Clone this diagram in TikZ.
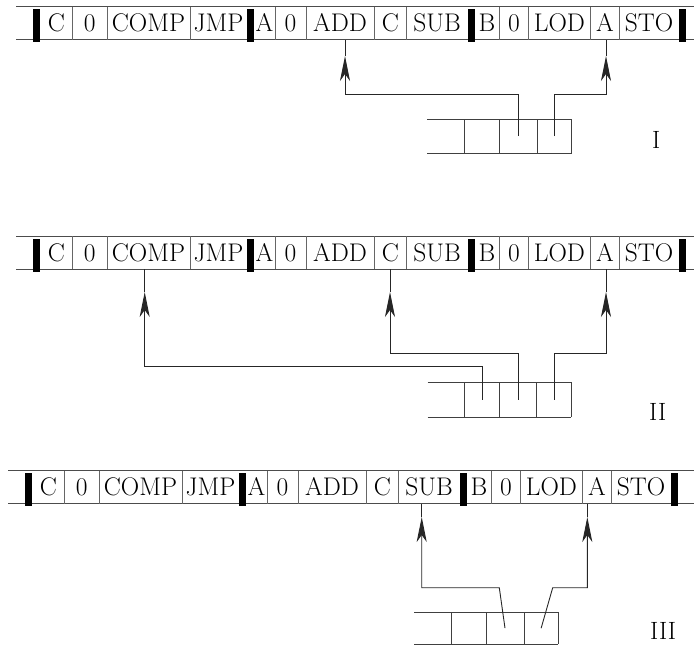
\documentclass[tikz,border=0pt]{standalone}
\usepackage{fontspec}
\usetikzlibrary{arrows.meta}
\begin{document}
\begin{tikzpicture}[x=1pt,y=-1pt,
  tapeline/.style={line width=0.9pt, black!70},
  divider/.style={line width=0.8pt, black!60},
  cell/.style={inner sep=0pt, outer sep=0pt, minimum height=33pt, text height=17pt, text depth=0pt, font=\fontsize{25.5}{30}\selectfont},
  regcell/.style={inner sep=0pt, outer sep=0pt},
  regline/.style={line width=0.9pt, black!75},
  ptr/.style={line width=0.9pt, black!85},
  ptrtip/.style={ptr, -{Stealth[length=25pt,width=10pt,inset=7pt]}},
  panellabel/.style={anchor=base west, inner sep=0pt, font=\fontsize{25}{30}\selectfont},
]
\useasboundingbox (0,0) rectangle (694,646);

% tapes
\foreach \p/\top/\dx in {1/6.5/0, 2/236/0, 3/470.5/-8} {
  \pgfmathsetmacro\bot{\top+33}
  \pgfmathsetmacro\mid{\top+16.5}
  \draw[tapeline] ({16+\dx},\top) -- (694,\top) ({16+\dx},\bot) -- (694,\bot);
  \foreach \l/\r/\t [count=\k, evaluate=\l as \w using \r-\l, evaluate=\l as \cx using (\l+\r)/2+\dx] in
    {40/72.7/C, 72.7/107/0, 107/190/COMP, 190/247/JMP, 254/275/A, 275/306/0,
     306/374/ADD, 374/406.7/C, 406.7/467.5/SUB, 474.5/499.3/B, 499.3/528.5/0,
     528.5/590.3/LOD, 590.3/619.5/A, 619.5/678.5/STO} {
    \node[cell, minimum width=\w pt] (p\p-\k) at (\cx,\mid) {\t};
  }
  \foreach \x in {72.7,107,190,275,306,374,406.7,499.3,528.5,590.3,619.5}
    \draw[divider] ({\x+\dx},\top) -- ({\x+\dx},\bot);
  \foreach \x in {33,247,467.5,678.5}
    \fill[black] ({\x+\dx},{\top+2.5}) rectangle ({\x+7+\dx},{\bot+2.5});
}

% registers
\foreach \p/\a/\b/\c/\d/\e/\top/\bot in
  {1/427/464.3/499.3/537/571.7/119/153,
   2/427.7/464.8/499.6/536.7/571.2/382/417,
   3/414.3/451.7/486/524/558.3/612.3/644} {
  \pgfmathsetmacro\mid{(\top+\bot)/2}
  \pgfmathsetmacro\h{\bot-\top}
  \draw[regline] (\a,\top) -- (\e,\top) (\a,\bot) -- (\e,\bot);
  \foreach \x in {\b,\c,\d,\e}
    \draw[regline] (\x,\top) -- (\x,\bot);
  \foreach \l/\r [count=\k, evaluate=\l as \w using \r-\l, evaluate=\l as \cx using (\l+\r)/2] in {\a/\b, \b/\c, \c/\d, \d/\e}
    \node[regcell, minimum width=\w pt, minimum height=\h pt] (r\p-\k) at (\cx,\mid) {};
}

% panel I pointers
\coordinate (h11) at (345,56);
\coordinate (h12) at (606,56);
\draw[ptrtip] (r1-3.center) |- (345,94.3) -- (h11);
\draw[ptr] (h11) -- (p1-7.south -| h11);
\draw[ptrtip] (r1-4.center) |- (606,94.3) -- (h12);
\draw[ptr] (h12) -- (p1-13.south -| h12);

% panel II pointers
\coordinate (h21) at (144.7,292);
\coordinate (h22) at (390,292);
\coordinate (h23) at (606,292);
\draw[ptrtip] (r2-2.center) |- (144.7,366.4) -- (h21);
\draw[ptr] (h21) -- (p2-3.south -| h21);
\draw[ptrtip] (r2-3.center) |- (390,353.6) -- (h22);
\draw[ptr] (h22) -- (p2-8.south -| h22);
\draw[ptrtip] (r2-4.center) |- (606,353.6) -- (h23);
\draw[ptr] (h23) -- (p2-13.south -| h23);

% panel III pointers
\coordinate (h31) at (421.7,517);
\coordinate (h32) at (587.3,517);
\draw[ptrtip] (r3-3.center) -- (499.3,587.7) -- (421.7,587.7) -- (h31);
\draw[ptr] (h31) -- (p3-9.south -| h31);
\draw[ptrtip] (r3-4.center) -- (552.7,587.7) -- (587.3,587.7) -- (h32);
\draw[ptr] (h32) -- (p3-13.south -| h32);

% labels
\node[panellabel] (lab1) at (652,148) {I};
\node[panellabel] (lab2) at (649,420) {II};
\node[panellabel] (lab3) at (650,639) {III};
\end{tikzpicture}
\end{document}
